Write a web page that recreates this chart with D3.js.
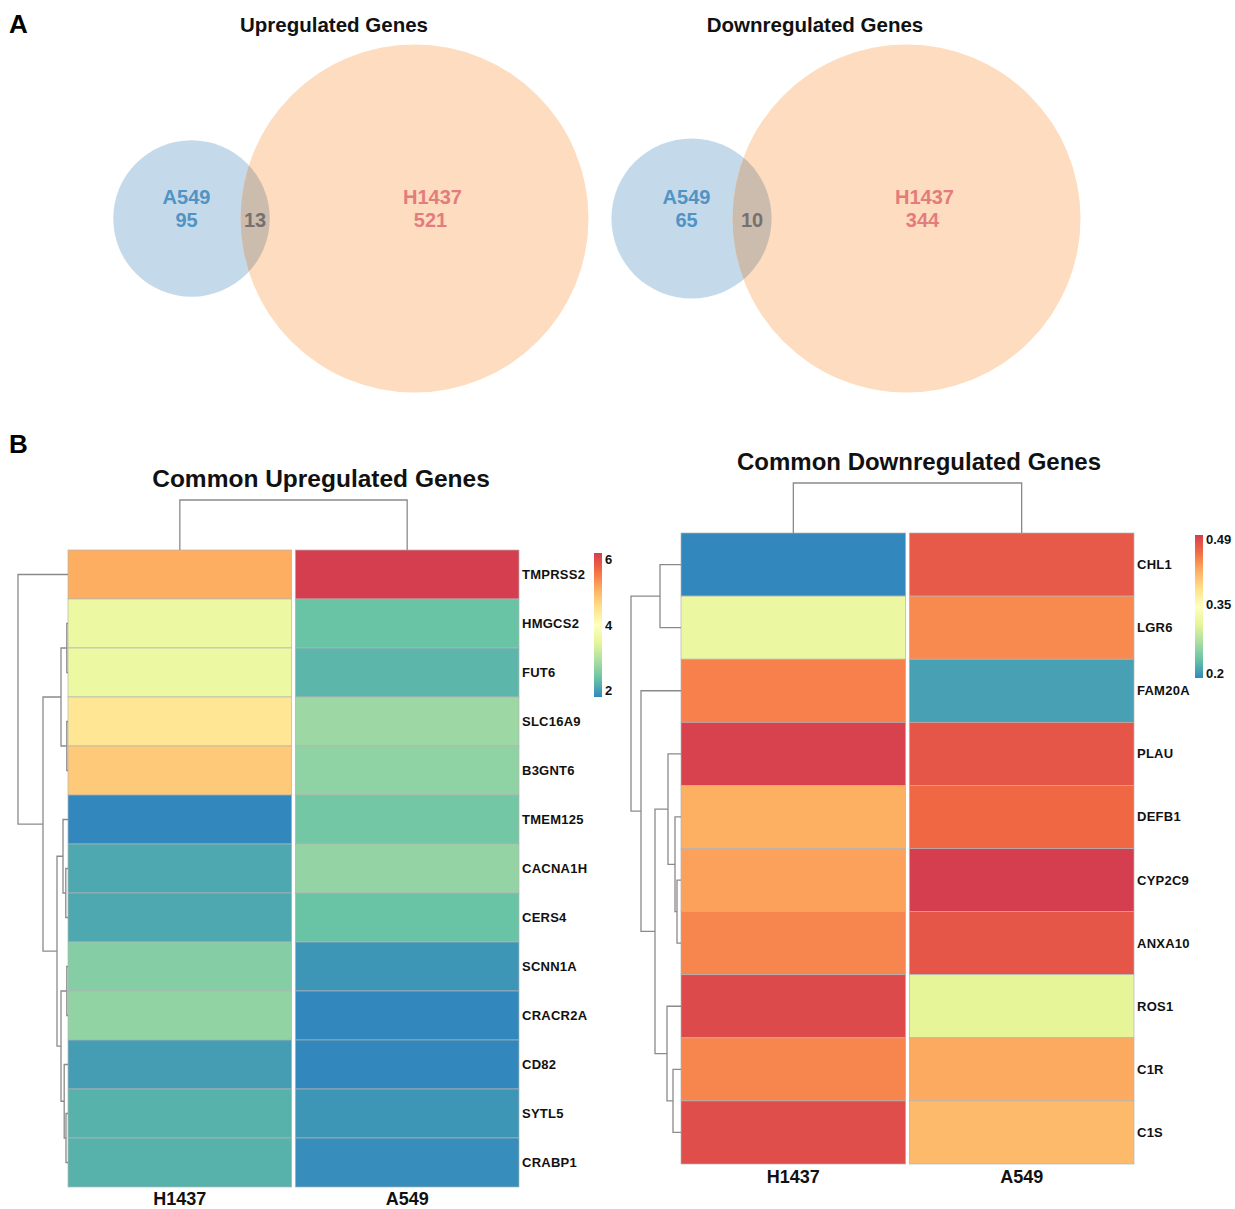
<!DOCTYPE html>
<html>
<head>
<meta charset="utf-8">
<script src="https://cdn.jsdelivr.net/npm/d3@7"></script>
<style>
  body { margin: 0; background: #fff; }
  svg { display: block; }
  text { font-family: "Liberation Sans", Arial, Helvetica, sans-serif; font-weight: bold; }
</style>
</head>
<body>
<svg id="fig" width="1235" height="1209"></svg>
<script>
// ---- Panel A: Venn counts ----
const vennTitles = ["Upregulated Genes", "Downregulated Genes"];
const a549Only = [95, 65];
const sharedGenes = [13, 10];
const h1437Only = [521, 344];

// ---- Panel B: heatmaps ----
const cellLines = ["H1437", "A549"];

const upGenes = ["TMPRSS2", "HMGCS2", "FUT6", "SLC16A9", "B3GNT6", "TMEM125", "CACNA1H",
                 "CERS4", "SCNN1A", "CRACR2A", "CD82", "SYTL5", "CRABP1"];
const upH1437 = [5.10, 3.60, 3.60, 4.45, 4.80, 1.80, 2.10, 2.10, 2.60, 2.70, 2.00, 2.20, 2.20];
const upA549  = [6.20, 2.37, 2.24, 2.78, 2.68, 2.46, 2.72, 2.37, 1.93, 1.80, 1.80, 1.93, 1.85];
const upLegendTicks = [2, 4, 6];

const downGenes = ["CHL1", "LGR6", "FAM20A", "PLAU", "DEFB1", "CYP2C9", "ANXA10", "ROS1", "C1R", "C1S"];
const downH1437 = [0.190, 0.315, 0.450, 0.497, 0.422, 0.430, 0.447, 0.490, 0.447, 0.487];
const downA549  = [0.478, 0.444, 0.206, 0.480, 0.466, 0.500, 0.480, 0.306, 0.425, 0.413];
const downLegendTicks = [0.2, 0.35, 0.49];

// hierarchical clustering of genes (merge heights) and of the two cell lines
const upRowTree = { h: 5.0, children: [
  "TMPRSS2",
  { h: 2.5, children: [
    { h: 0.7, children: [
      { h: 0.12, children: ["HMGCS2", "FUT6"] },
      { h: 0.12, children: ["SLC16A9", "B3GNT6"] } ] },
    { h: 1.1, children: [
      { h: 0.5, children: ["TMEM125", { h: 0.22, children: ["CACNA1H", "CERS4"] }] },
      { h: 0.7, children: [
        { h: 0.12, children: ["SCNN1A", "CRACR2A"] },
        { h: 0.38, children: ["CD82", { h: 0.2, children: ["SYTL5", "CRABP1"] }] } ] } ] } ] } ] };

const downRowTree = { h: 5.0, children: [
  { h: 2.1, children: ["CHL1", "LGR6"] },
  { h: 4.0, children: [
    "FAM20A",
    { h: 2.6, children: [
      { h: 1.3, children: ["PLAU", { h: 0.6, children: ["DEFB1", { h: 0.4, children: ["CYP2C9", "ANXA10"] }] }] },
      { h: 1.4, children: ["ROS1", { h: 0.8, children: ["C1R", "C1S"] }] } ] } ] } ] };

const colTree = { h: 1, children: ["H1437", "A549"] };

const svg = d3.select("#fig");
const spectral = d3.schemeSpectral[9].slice().reverse();

// panel letters
svg.append("text").attr("x", 9).attr("y", 33).attr("font-size", 26).text("A");
svg.append("text").attr("x", 9).attr("y", 453).attr("font-size", 26).text("B");

// ---------------- Venn diagrams ----------------
const vennLayout = [
  { blueX: 191.5, orangeX: 414.5, titleX: 334 },
  { blueX: 691.5, orangeX: 906.5, titleX: 815 }
];
const vennY = 218.5;
const defs = svg.append("defs");

vennLayout.forEach((L, i) => {
  const totA = a549Only[i] + sharedGenes[i];
  const totH = h1437Only[i] + sharedGenes[i];
  const r = d3.scaleSqrt().domain([0, Math.max(totA, totH)]).range([0, 174]);
  const rA = r(totA), rH = r(totH);
  const g = svg.append("g");

  g.append("text").attr("x", L.titleX).attr("y", 32).attr("text-anchor", "middle")
    .attr("font-size", 20.5).attr("fill", "#111").text(vennTitles[i]);

  g.append("circle").attr("cx", L.blueX).attr("cy", vennY).attr("r", rA).attr("fill", "#c4daeb");
  g.append("circle").attr("cx", L.orangeX).attr("cy", vennY).attr("r", rH).attr("fill", "#fddcbf");

  const clipId = "lens" + i;
  defs.append("clipPath").attr("id", clipId)
    .append("circle").attr("cx", L.orangeX).attr("cy", vennY).attr("r", rH);
  g.append("circle").attr("cx", L.blueX).attr("cy", vennY).attr("r", rA)
    .attr("clip-path", `url(#${clipId})`).attr("fill", "#cbbcae");

  const lensMid = ((L.orangeX - rH) + (L.blueX + rA)) / 2;

  const lab = (x, y, t, c) => g.append("text").attr("x", x).attr("y", y)
    .attr("text-anchor", "middle").attr("font-size", 20).attr("fill", c).text(t);
  lab(L.blueX - 5, 204, "A549", "#5193c2");
  lab(L.blueX - 5, 227, a549Only[i], "#5193c2");
  lab(L.orangeX + 18, 204, "H1437", "#e37c7c");
  lab(L.orangeX + 16, 227, h1437Only[i], "#e37c7c");
  lab(lensMid, 227, sharedGenes[i], "#77716e");
});

// ---------------- heatmaps ----------------
function drawHeatmap(cfg) {
  const g = svg.append("g");
  const rows = d3.scaleBand().domain(cfg.genes).range([cfg.top, cfg.bottom]);
  const cols = d3.scaleBand().domain(cellLines).range([cfg.left, cfg.right]).paddingInner(0.016);
  const ext = d3.extent(cfg.values.flat());
  const color = d3.scaleLinear()
    .domain(spectral.map((_, k) => ext[0] + k * (ext[1] - ext[0]) / (spectral.length - 1)))
    .range(spectral);

  // title
  g.append("text").attr("x", cfg.titleX).attr("y", cfg.titleY).attr("text-anchor", "middle")
    .attr("font-size", cfg.titleSize).attr("fill", "#111").text(cfg.title);

  // cells
  cellLines.forEach((line, ci) => {
    g.selectAll(null).data(cfg.genes).join("rect")
      .attr("x", cols(line)).attr("y", d => rows(d))
      .attr("width", cols.bandwidth()).attr("height", rows.bandwidth())
      .attr("fill", (d, k) => color(cfg.values[ci][k]))
      .attr("stroke", "#b4b4b4").attr("stroke-width", 0.7);
  });

  // gene labels
  g.selectAll(null).data(cfg.genes).join("text")
    .attr("x", cfg.right + 3).attr("y", d => rows(d) + rows.bandwidth() / 2 + 4.5)
    .attr("font-size", 13).attr("letter-spacing", 0.25).attr("fill", "#111").text(d => d);

  // cell line labels
  g.selectAll(null).data(cellLines).join("text")
    .attr("x", d => cols(d) + cols.bandwidth() / 2).attr("y", cfg.bottom + cfg.labelDy)
    .attr("text-anchor", "middle").attr("font-size", 18).attr("fill", "#111").text(d => d);

  const kids = d => (typeof d === "string" ? null : d.children);
  const line = g.append("g").attr("fill", "none").attr("stroke", "#8a8a8a").attr("stroke-width", 1.3);

  // row dendrogram
  const rRoot = d3.hierarchy(cfg.tree, kids);
  const hx = d3.scaleLinear().domain([0, cfg.tree.h]).range([cfg.left, cfg.dendroLeft]);
  rRoot.eachAfter(n => {
    n.h = n.children ? n.data.h : 0;
    n.pos = n.children ? d3.mean(n.children, c => c.pos) : rows(n.data) + rows.bandwidth() / 2;
  });
  rRoot.each(n => {
    if (!n.children) return;
    const [a, b] = n.children;
    line.append("path").attr("d",
      `M${hx(a.h)},${a.pos}H${hx(n.h)}V${b.pos}H${hx(b.h)}`);
  });

  // column dendrogram
  const cRoot = d3.hierarchy(colTree, kids);
  const hy = d3.scaleLinear().domain([0, colTree.h]).range([cfg.top, cfg.colTop]);
  cRoot.eachAfter(n => {
    n.h = n.children ? n.data.h : 0;
    n.pos = n.children ? d3.mean(n.children, c => c.pos) : cols(n.data) + cols.bandwidth() / 2;
  });
  cRoot.each(n => {
    if (!n.children) return;
    const [a, b] = n.children;
    line.append("path").attr("d",
      `M${a.pos},${hy(a.h)}V${hy(n.h)}H${b.pos}V${hy(b.h)}`);
  });

  // colour key
  const gid = "grad" + cfg.id;
  const grad = defs.append("linearGradient").attr("id", gid)
    .attr("x1", 0).attr("y1", 1).attr("x2", 0).attr("y2", 0);
  spectral.forEach((c, k) => grad.append("stop")
    .attr("offset", k / (spectral.length - 1)).attr("stop-color", c));
  g.append("rect").attr("x", cfg.keyX).attr("y", cfg.keyTop)
    .attr("width", 8).attr("height", cfg.keyBottom - cfg.keyTop).attr("fill", `url(#${gid})`);
  const ky = d3.scaleLinear().domain(ext).range([cfg.keyBottom, cfg.keyTop]);
  g.selectAll(null).data(cfg.ticks).join("text")
    .attr("x", cfg.keyX + 11).attr("y", d => ky(d) + 4.5)
    .attr("font-size", 13).attr("fill", "#111").text(d => d);
}

drawHeatmap({
  id: "up", title: "Common Upregulated Genes", titleX: 321, titleY: 486.5, titleSize: 24.5,
  genes: upGenes, values: [upH1437, upA549], tree: upRowTree, ticks: upLegendTicks,
  left: 68, right: 519, top: 550, bottom: 1187, dendroLeft: 18, colTop: 500, labelDy: 18,
  keyX: 594, keyTop: 553, keyBottom: 697
});

drawHeatmap({
  id: "down", title: "Common Downregulated Genes", titleX: 919, titleY: 469.5, titleSize: 24,
  genes: downGenes, values: [downH1437, downA549], tree: downRowTree, ticks: downLegendTicks,
  left: 681, right: 1134, top: 533, bottom: 1164, dendroLeft: 631, colTop: 483, labelDy: 19,
  keyX: 1195, keyTop: 535, keyBottom: 678
});
</script>
</body>
</html>
